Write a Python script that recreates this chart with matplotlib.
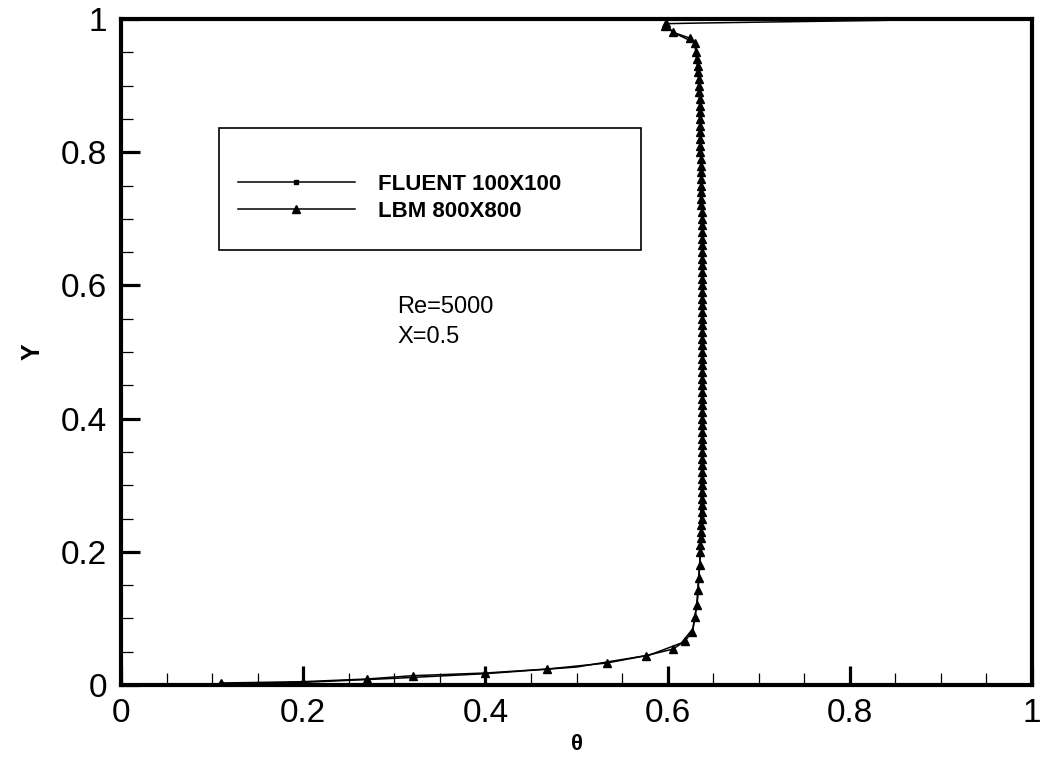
import matplotlib.pyplot as plt
from matplotlib.patches import Rectangle

plt.rcParams['font.family'] = ['Liberation Sans', 'DejaVu Sans']

# LBM 800X800 temperature profile at X=0.5
lbm_theta = [0.110, 0.200, 0.270, 0.320, 0.400, 0.468, 0.533, 0.576, 0.606, 0.619,
             0.627, 0.630, 0.632, 0.633, 0.634, 0.635, 0.636, 0.636, 0.637, 0.637,
             0.637, 0.638, 0.638, 0.638, 0.638, 0.638, 0.638, 0.638, 0.638, 0.638,
             0.638, 0.638, 0.638, 0.638, 0.638, 0.638, 0.638, 0.638, 0.638, 0.638,
             0.638, 0.638, 0.638, 0.638, 0.638, 0.638, 0.638, 0.638, 0.638, 0.638,
             0.638, 0.638, 0.638, 0.638, 0.638, 0.638, 0.638, 0.638, 0.638, 0.638,
             0.638, 0.638, 0.638, 0.638, 0.638, 0.638, 0.638, 0.638, 0.637, 0.637,
             0.637, 0.637, 0.637, 0.637, 0.637, 0.637, 0.636, 0.636, 0.636, 0.636,
             0.636, 0.635, 0.635, 0.635, 0.635, 0.634, 0.634, 0.634, 0.633, 0.633,
             0.632, 0.631, 0.630, 0.625, 0.606, 0.597, 0.598]
lbm_y = [0.003, 0.005, 0.009, 0.014, 0.018, 0.024, 0.033, 0.044, 0.054, 0.066,
         0.080, 0.102, 0.120, 0.143, 0.160, 0.180, 0.200, 0.210, 0.220, 0.230,
         0.240, 0.250, 0.260, 0.270, 0.280, 0.290, 0.300, 0.310, 0.320, 0.330,
         0.340, 0.350, 0.360, 0.370, 0.380, 0.390, 0.400, 0.410, 0.420, 0.430,
         0.440, 0.450, 0.460, 0.470, 0.480, 0.490, 0.500, 0.510, 0.520, 0.530,
         0.540, 0.550, 0.560, 0.570, 0.580, 0.590, 0.600, 0.610, 0.620, 0.630,
         0.640, 0.650, 0.660, 0.670, 0.680, 0.690, 0.700, 0.710, 0.720, 0.730,
         0.740, 0.750, 0.760, 0.770, 0.780, 0.790, 0.800, 0.810, 0.820, 0.830,
         0.840, 0.850, 0.860, 0.870, 0.880, 0.890, 0.900, 0.910, 0.920, 0.930,
         0.940, 0.950, 0.964, 0.971, 0.980, 0.990, 0.994]

# FLUENT 100X100 profile
fluent_theta = [0.110, 0.200, 0.300, 0.400, 0.500, 0.580, 0.615, 0.628, 0.633, 0.636,
                0.638, 0.638, 0.637, 0.635, 0.630, 0.606, 0.598, 0.638, 0.737, 0.840]
fluent_y = [0.002, 0.004, 0.010, 0.017, 0.027, 0.045, 0.063, 0.085, 0.130, 0.200,
            0.400, 0.600, 0.800, 0.900, 0.964, 0.980, 0.993, 0.994, 0.996, 0.998]

major_ticks = [0, 0.2, 0.4, 0.6, 0.8, 1.0]
minor_ticks = [0.05, 0.1, 0.15, 0.25, 0.3, 0.35, 0.45, 0.5, 0.55,
               0.65, 0.7, 0.75, 0.85, 0.9, 0.95]
tick_labels = ['0', '0.2', '0.4', '0.6', '0.8', '1']

fig = plt.figure(figsize=(10.41, 7.57), dpi=100)
ax = fig.add_axes([0.1162, 0.0951, 0.8752, 0.8798])

ax.plot(fluent_theta, fluent_y, color='black', lw=1.1, marker='s', ms=2.5,
        markevery=[0], label='FLUENT 100X100')
ax.plot(lbm_theta, lbm_y, color='black', lw=1.1, marker='^', ms=5.5,
        label='LBM 800X800')

ax.set_xlim(0, 1)
ax.set_ylim(0, 1)

ax.set_xticks(major_ticks)
ax.set_xticks(minor_ticks, minor=True)
ax.set_yticks(major_ticks)
ax.set_yticks(minor_ticks, minor=True)
ax.set_xticklabels(tick_labels)
ax.set_yticklabels(tick_labels)

ax.tick_params(which='major', direction='in', length=14, width=2.3,
               labelsize=24, top=False, right=False)
ax.tick_params(which='minor', direction='in', length=8.5, width=0.9,
               top=False, right=False)
ax.tick_params(axis='y', which='major', pad=10)
ax.tick_params(axis='x', which='major', pad=9)

for s in ax.spines.values():
    s.set_linewidth(3.0)

ax.set_xlabel('θ', fontsize=16, fontweight='bold', labelpad=4)
ax.set_ylabel('Y', fontsize=18, fontweight='bold', labelpad=12)

# legend box
ax.add_patch(Rectangle((0.1076, 0.653), 0.4632, 0.183, transform=ax.transAxes,
                       fill=False, edgecolor='black', lw=1.2, zorder=3))
leg = ax.legend(loc='upper left', bbox_to_anchor=(0.128, 0.768), frameon=False,
                prop={'size': 16, 'weight': 'bold'}, handlelength=5.3,
                handletextpad=1.0, labelspacing=0.3, borderpad=0, borderaxespad=0)

ax.text(0.303, 0.584, 'Re=5000\nX=0.5', fontsize=17, ha='left', va='top',
        linespacing=1.45)

fig.savefig('out.png', dpi=100)
